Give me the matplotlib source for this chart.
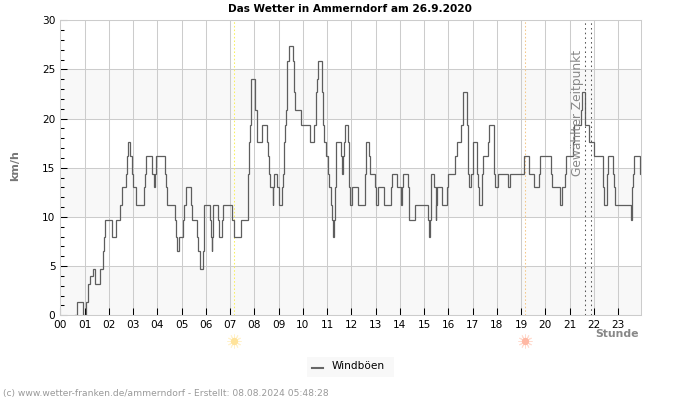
import matplotlib
matplotlib.use('Agg')
import matplotlib.pyplot as plt

# Windboeen: Stufen (Startzeit in Stunden, Wert in km/h)
stunden = [0.62, 0.70, 0.92, 1.08, 1.15, 1.22, 1.33, 1.43, 1.50, 1.62, 1.67, 1.77, 1.79, 1.80, 1.83, 2.14, 2.24, 2.30,
           2.48, 2.53, 2.72, 2.74, 2.79, 2.88, 2.94, 2.98, 3.11, 3.47, 3.50, 3.53, 3.80, 3.86, 3.92, 3.96, 4.30, 4.34,
           4.38, 4.72, 4.76, 4.80, 4.90, 5.05, 5.10, 5.19, 5.38, 5.45, 5.62, 5.68, 5.77, 5.88, 5.92, 5.93, 6.17, 6.20,
           6.24, 6.27, 6.31, 6.50, 6.56, 6.68, 6.72, 7.08, 7.15, 7.47, 7.73, 7.75, 7.78, 7.82, 7.85, 7.88, 8.03, 8.10,
           8.28, 8.33, 8.53, 8.58, 8.62, 8.65, 8.75, 8.79, 8.83, 8.95, 9.00, 9.14, 9.19, 9.21, 9.24, 9.26, 9.29, 9.33,
           9.36, 9.41, 9.60, 9.65, 9.66, 9.91, 10.28, 10.48, 10.54, 10.58, 10.61, 10.80, 10.84, 10.88, 10.96, 11.05, 11.08, 11.15,
           11.19, 11.26, 11.30, 11.33, 11.35, 11.36, 11.56, 11.61, 11.66, 11.70, 11.72, 11.88, 11.90, 11.94, 12.01, 12.27, 12.57, 12.58,
           12.61, 12.72, 12.77, 12.99, 13.03, 13.10, 13.35, 13.65, 13.68, 13.90, 14.04, 14.07, 14.14, 14.34, 14.37, 14.39, 14.64, 15.17,
           15.22, 15.25, 15.27, 15.30, 15.42, 15.47, 15.51, 15.55, 15.72, 15.94, 16.00, 16.28, 16.35, 16.52, 16.60, 16.78, 16.80,
           16.84, 16.95, 17.00, 17.20, 17.23, 17.26, 17.37, 17.39, 17.41, 17.62, 17.66, 17.87, 17.92, 18.03, 18.46, 18.53, 19.11, 19.33,
           19.35, 19.53, 19.74, 19.78, 20.22, 20.27, 20.60, 20.70, 20.80, 20.87, 21.14, 21.19, 21.47, 21.52, 21.63, 21.68, 21.78, 22.00,
           22.36, 22.38, 22.40, 22.52, 22.54, 22.57, 22.78, 22.83, 22.89, 23.55, 23.58, 23.60, 23.65, 23.91]
boeen = [0, 1.4, 0, 1.4, 3.2, 4.0, 4.7, 3.2, 3.2, 4.7, 4.7, 6.5, 8, 8, 9.7, 8, 8, 9.7,
         11.2, 13, 14.4, 16.2, 17.6, 16.2, 14.4, 13, 11.2, 13, 14.4, 16.2, 14.4, 13, 14.4, 16.2, 14.4, 13,
         11.2, 9.7, 8, 6.5, 8, 9.7, 11.2, 13, 11.2, 9.7, 8, 6.5, 4.7, 6.5, 9.7, 11.2, 9.7, 8,
         6.5, 8, 11.2, 9.7, 8, 9.7, 11.2, 9.7, 8, 9.7, 13, 14.4, 17.6, 19.4, 22.7, 24, 20.9, 17.6,
         17.6, 19.4, 17.6, 16.2, 14.4, 13, 11.2, 13, 14.4, 13, 11.2, 13, 14.4, 16.2, 17.6, 19.4, 20.9, 24,
         25.9, 27.4, 25.9, 22.7, 20.9, 19.4, 17.6, 19.4, 22.7, 24, 25.9, 22.7, 19.4, 17.6, 16.2, 14.4, 13, 11.2,
         9.7, 8, 9.7, 13, 14.4, 17.6, 16.2, 14.4, 16.2, 17.6, 19.4, 17.6, 13, 11.2, 13, 11.2, 13, 14.4,
         17.6, 16.2, 14.4, 13, 11.2, 13, 11.2, 13, 14.4, 13, 11.2, 13, 14.4, 13, 11.2, 9.7, 11.2, 9.7,
         8, 9.7, 13, 14.4, 13, 9.7, 11.2, 13, 11.2, 13, 14.4, 16.2, 17.6, 19.4, 22.7, 19.4, 14.4,
         13, 14.4, 17.6, 14.4, 13, 11.2, 13, 14.4, 16.2, 17.6, 19.4, 14.4, 13, 14.4, 13, 14.4, 16.2, 14.4,
         14.4, 13, 14.4, 16.2, 14.4, 13, 11.2, 13, 14.4, 16.2, 17.6, 19.4, 20.9, 22.7, 19.4, 19.4, 17.6, 16.2,
         14.4, 13, 11.2, 13, 14.4, 16.2, 14.4, 13, 11.2, 9.7, 13, 14.4, 16.2, 14.4]
stundenlabels = ['%02d' % h for h in range(24)]
ywerte = [0, 5, 10, 15, 20, 25, 30]
baender = [0, 10, 20]
sonnenaufgang = 7.175
sonnenuntergang = 19.18
zeitpunkt = [21.65, 21.90]

fig = plt.figure(figsize=(7, 4), dpi=100)
ax = fig.add_axes([60.3 / 700, 1 - 315.3 / 400, 580.4 / 700, 295 / 400])

# graue Baender und Gitter
for b in baender:
    ax.axhspan(b, b + 5, color='#f8f8f8', lw=0, zorder=0)
ax.grid(True, which='major', color='#cccccc', lw=0.75, zorder=1)
ax.set_axisbelow(True)

ax.plot(stunden + [23.93], boeen + [boeen[-1]], drawstyle='steps-post', color='#5e5e5e', lw=0.9, zorder=3,
        solid_joinstyle='miter')

ax.axvline(sonnenaufgang, color='#f8f060', ls=(0, (1.5, 2)), lw=0.75, zorder=2)
ax.axvline(sonnenuntergang, color='#f5c78a', ls=(0, (1.5, 2)), lw=0.75, zorder=2)
for z in zeitpunkt:
    ax.axvline(z, color='#555555', ls=(0, (1.5, 3)), lw=0.75, zorder=4)
ax.text(21.33, 14.2, 'Gewählter Zeitpunkt', rotation=90, ha='center', va='bottom',
        color='#888888', fontsize=8.8, zorder=5)

ax.set_xlim(0, 23.93)
ax.set_ylim(0, 30)
ax.set_xticks(range(24))
ax.set_xticklabels(stundenlabels)
ax.set_yticks(ywerte)
ax.set_yticks(range(0, 31), minor=True)
ax.tick_params(axis='both', which='major', direction='in', length=5, width=0.75, labelsize=7.6, color='black', pad=3.5)
ax.tick_params(axis='y', which='minor', direction='in', length=3, width=0.75, color='black')
for s in ax.spines.values():
    s.set_color('#cccccc')
    s.set_linewidth(0.75)

fig.text(350 / 700, 1 - 9 / 400, 'Das Wetter in Ammerndorf am 26.9.2020', ha='center', va='center', fontsize=7.6,
         fontweight='bold', color='black')
fig.text(15.5 / 700, 1 - 166 / 400, 'km/h', rotation=90, ha='center', va='center', fontsize=8, fontweight='bold',
         color='#777777')
fig.text(639 / 700, 1 - 334 / 400, 'Stunde', ha='right', va='center', fontsize=7.8, fontweight='bold', color='#888888')
fig.text(3 / 700, 1 - 393.5 / 400, '(c) www.wetter-franken.de/ammerndorf - Erstellt: 08.08.2024 05:48:28', ha='left',
         va='center', fontsize=6.6, color='#999999')

# Sonnensymbole unter der Achse
trans = ax.get_xaxis_transform()
sy = -(341 - 315.3) / 295
ax.scatter([sonnenaufgang], [sy], s=90, marker=(12, 2, 0), color='#fff2cc', lw=0.7, transform=trans, clip_on=False)
ax.scatter([sonnenaufgang], [sy], s=28, marker='o', color='#ffe39a', lw=0, transform=trans, clip_on=False)
ax.scatter([sonnenuntergang], [sy], s=90, marker=(12, 2, 0), color='#ffdcd0', lw=0.7, transform=trans, clip_on=False)
ax.scatter([sonnenuntergang], [sy], s=28, marker='o', color='#ffb8a4', lw=0, transform=trans, clip_on=False)

# Legende
fig.patches.append(plt.Rectangle((307 / 700, 1 - 377 / 400), 87 / 700, 20 / 400, transform=fig.transFigure,
                                 facecolor='#f8f8f8', edgecolor='none'))
fig.add_artist(plt.Line2D([312 / 700, 323 / 700], [1 - 367.5 / 400] * 2, color='#666666', lw=1.5))
fig.text(332 / 700, 1 - 366 / 400, 'Windböen', ha='left', va='center', fontsize=7.6, color='black')

fig.savefig('out.png', dpi=100)
